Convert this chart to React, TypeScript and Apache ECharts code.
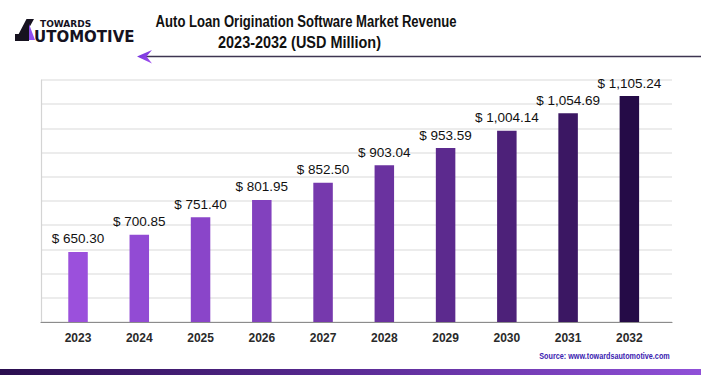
import React, { useEffect, useRef } from "react";
import * as echarts from "echarts";

const years = ["2023", "2024", "2025", "2026", "2027", "2028", "2029", "2030", "2031", "2032"];
const revenue = [650.3, 700.85, 751.4, 801.95, 852.5, 903.04, 953.59, 1004.14, 1054.69, 1105.24];
const barColors = ["#9b50dc", "#924bd4", "#8a45c9", "#8241be", "#7639ad", "#6a329f", "#5c2a8e", "#4d2179", "#3b1763", "#250b47"];
const titleLines = ["Auto Loan Origination Software Market Revenue", "2023-2032 (USD Million)"];
const sourceText = "Source: www.towardsautomotive.com";
const logoTop = "TOWARDS";
const logoBottom = "UTOMOTIVE";

const sans = "'Liberation Sans', Arial, sans-serif";

export default function App() {
  const ref = useRef<HTMLDivElement>(null);
  useEffect(() => {
    document.body.style.margin = "0";
    const chart = echarts.init(ref.current!, null, { renderer: "svg" });
    chart.setOption({
      animation: false,
      backgroundColor: "#ffffff",
      grid: [
        { left: 41, top: 80, width: 631, height: 242 },
        { left: 47.4, top: 80, width: 612.6, height: 242 },
      ],
      xAxis: [
        {
          gridIndex: 0, type: "value", min: 0, max: 1,
          axisLine: { show: true, onZero: false, lineStyle: { color: "#8c8c8c", width: 1.2 } },
          axisTick: { show: false }, axisLabel: { show: false }, splitLine: { show: false },
        },
        {
          gridIndex: 1, type: "category", data: years,
          axisLine: { show: false }, axisTick: { show: false },
          axisLabel: { margin: 10, fontSize: 12, fontWeight: "bold", color: "#2a2a2a", fontFamily: sans },
        },
      ],
      yAxis: [
        {
          gridIndex: 0, type: "value", min: 0, max: 10, interval: 1,
          axisLine: { show: true, lineStyle: { color: "#d4d4d4", width: 1.2 } },
          axisLabel: { show: false }, axisTick: { show: false },
          splitLine: { show: true, lineStyle: { color: "#e6e6e6", width: 1.5 } },
        },
        { gridIndex: 1, type: "value", min: 446, max: 1152, show: false },
      ],
      series: [
        {
          type: "bar",
          xAxisIndex: 1,
          yAxisIndex: 1,
          barWidth: 19.5,
          data: revenue.map((v, i) => ({ value: v, itemStyle: { color: barColors[i] } })),
          label: {
            show: true,
            position: "top",
            distance: 6,
            fontFamily: sans,
            fontSize: 13.5,
            color: "#111111",
            formatter: (p: any) =>
              "$ " + Number(p.value).toLocaleString("en-US", { minimumFractionDigits: 2, maximumFractionDigits: 2 }),
          },
        },
      ],
      graphic: [
        // title
        {
          type: "text", x: 306, y: 20.5, scaleX: 0.77,
          style: {
            text: titleLines[0], fontFamily: sans, fontWeight: "bold", fontSize: 17, fill: "#111111",
            textAlign: "center", textVerticalAlign: "middle",
          },
        },
        {
          type: "text", x: 299.5, y: 42.5, scaleX: 0.85,
          style: {
            text: titleLines[1], fontFamily: sans, fontWeight: "bold", fontSize: 17, fill: "#111111",
            textAlign: "center", textVerticalAlign: "middle",
          },
        },
        // arrow line under title
        { type: "line", shape: { x1: 146, y1: 56.5, x2: 701, y2: 56.5 }, style: { stroke: "#3d3551", lineWidth: 1.5 } },
        {
          type: "polygon",
          shape: { points: [[137, 56.5], [152, 50], [146.5, 56.5], [152, 63.5]] },
          style: {
            fill: new echarts.graphic.LinearGradient(0, 0, 1, 1, [
              { offset: 0, color: "#6a2fd8" },
              { offset: 1, color: "#a24ff0" },
            ]),
          },
        },
        // logo mark
        { type: "polygon", shape: { points: [[15, 41], [26.5, 19], [34, 19], [29, 28], [29, 41]] }, style: { fill: "#16121f" } },
        { type: "polygon", shape: { points: [[29, 24], [35, 40], [29, 40]] }, style: { fill: "#8f4ff0" } },
        { type: "polygon", shape: { points: [[15, 34], [27, 34], [27, 41], [15, 41]] }, style: { fill: "#16121f" } },
        {
          type: "text", x: 40, y: 24,
          style: {
            text: logoTop, fontFamily: "'DejaVu Sans', sans-serif", fontWeight: "bold", fontSize: 9, fill: "#16121f",
            textVerticalAlign: "middle",
          },
        },
        {
          type: "text", x: 34, y: 36.5,
          style: {
            text: logoBottom, fontFamily: "'DejaVu Sans', sans-serif", fontWeight: "bold", fontSize: 15, fill: "#16121f",
            textVerticalAlign: "middle",
          },
        },
        // source
        {
          type: "text", x: 604.5, y: 356, scaleX: 0.85,
          style: {
            text: sourceText, fontFamily: sans, fontWeight: "bold", fontSize: 8.5, fill: "#3a22b0",
            textAlign: "center", textVerticalAlign: "middle",
          },
        },
        // bottom band
        {
          type: "rect",
          shape: { x: 0, y: 369, width: 701, height: 6 },
          style: {
            fill: new echarts.graphic.LinearGradient(0, 0, 1, 0, [
              { offset: 0, color: "#2a0e4f" },
              { offset: 0.5, color: "#5a2b95" },
              { offset: 1, color: "#9050d8" },
            ]),
          },
        },
      ],
    });
    return () => chart.dispose();
  }, []);
  return <div ref={ref} style={{ width: 701, height: 375 }} />;
}
